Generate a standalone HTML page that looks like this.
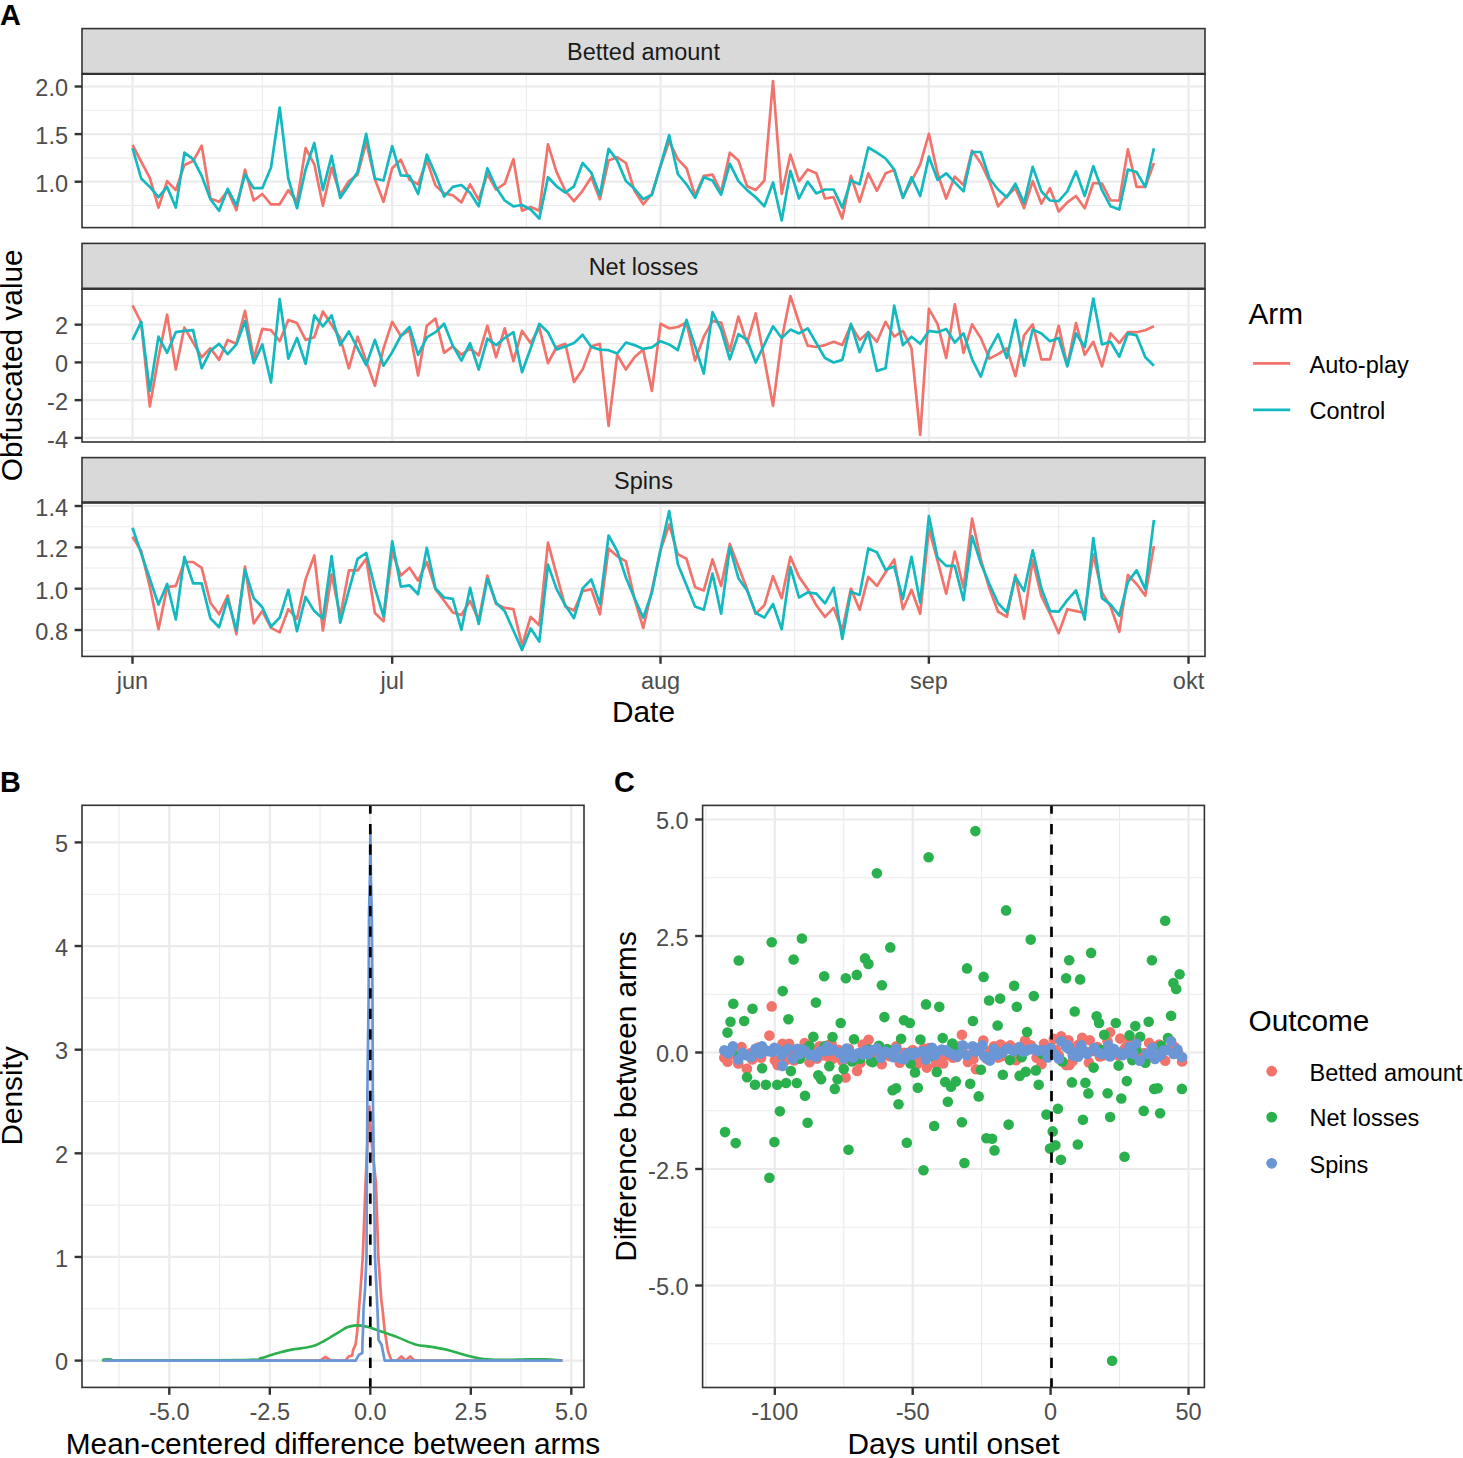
<!DOCTYPE html>
<html><head><meta charset="utf-8"><style>
html,body{margin:0;padding:0;background:#fff;}
svg{display:block;font-family:"Liberation Sans",sans-serif;}
</style></head><body>
<svg width="1463" height="1458" viewBox="0 0 1463 1458">
<rect x="0" y="0" width="1463" height="1458" fill="#fff"/>
<rect x="82.0" y="74.1" width="1123.0" height="153.5" fill="#FFFFFF"/>
<line x1="82.0" y1="205.50" x2="1205.0" y2="205.50" stroke="#EBEBED" stroke-width="1.1"/>
<line x1="82.0" y1="157.90" x2="1205.0" y2="157.90" stroke="#EBEBED" stroke-width="1.1"/>
<line x1="82.0" y1="110.30" x2="1205.0" y2="110.30" stroke="#EBEBED" stroke-width="1.1"/>
<line x1="262.34" y1="74.1" x2="262.34" y2="227.6" stroke="#EBEBED" stroke-width="1.1"/>
<line x1="526.35" y1="74.1" x2="526.35" y2="227.6" stroke="#EBEBED" stroke-width="1.1"/>
<line x1="794.68" y1="74.1" x2="794.68" y2="227.6" stroke="#EBEBED" stroke-width="1.1"/>
<line x1="1058.69" y1="74.1" x2="1058.69" y2="227.6" stroke="#EBEBED" stroke-width="1.1"/>
<line x1="82.0" y1="181.70" x2="1205.0" y2="181.70" stroke="#EBEBED" stroke-width="2.2"/>
<line x1="82.0" y1="134.10" x2="1205.0" y2="134.10" stroke="#EBEBED" stroke-width="2.2"/>
<line x1="82.0" y1="86.50" x2="1205.0" y2="86.50" stroke="#EBEBED" stroke-width="2.2"/>
<line x1="132.50" y1="74.1" x2="132.50" y2="227.6" stroke="#EBEBED" stroke-width="2.2"/>
<line x1="392.18" y1="74.1" x2="392.18" y2="227.6" stroke="#EBEBED" stroke-width="2.2"/>
<line x1="660.52" y1="74.1" x2="660.52" y2="227.6" stroke="#EBEBED" stroke-width="2.2"/>
<line x1="928.85" y1="74.1" x2="928.85" y2="227.6" stroke="#EBEBED" stroke-width="2.2"/>
<line x1="1188.53" y1="74.1" x2="1188.53" y2="227.6" stroke="#EBEBED" stroke-width="2.2"/>
<polyline points="132.5,144.9 141.2,161.7 149.8,177.9 158.5,207.6 167.1,181.1 175.8,190.1 184.4,164.9 193.1,161.1 201.7,145.6 210.4,198.5 219.1,201.8 227.7,190.8 236.4,210.2 245.0,169.5 253.7,200.5 262.3,194.0 271.0,204.3 279.7,204.3 288.3,190.1 297.0,201.8 305.6,148.2 314.3,164.3 322.9,205.6 331.6,167.5 340.2,194.7 348.9,181.1 357.6,174.6 366.2,142.3 374.9,179.2 383.5,201.8 392.2,168.2 400.8,159.8 409.5,179.8 418.1,184.3 426.8,160.4 435.5,185.6 444.1,193.4 452.8,195.3 461.4,202.4 470.1,184.3 478.7,199.8 487.4,174.0 496.1,189.5 504.7,183.7 513.4,159.1 522.0,210.8 530.7,206.9 539.3,210.8 548.0,144.3 556.6,172.1 565.3,190.8 574.0,201.1 582.6,190.8 591.3,177.2 599.9,199.2 608.6,160.4 617.2,157.2 625.9,163.0 634.5,190.8 643.2,204.3 651.9,194.0 660.5,166.2 669.2,141.1 677.8,159.1 686.5,168.2 695.1,196.0 703.8,175.9 712.5,174.6 721.1,192.1 729.8,152.7 738.4,160.4 747.1,186.3 755.7,190.1 764.4,180.5 773.0,81.0 781.7,194.0 790.4,154.6 799.0,181.1 807.7,169.5 816.3,173.3 825.0,198.5 833.6,197.2 842.3,218.6 850.9,175.9 859.6,201.8 868.3,173.3 876.9,190.8 885.6,173.3 894.2,170.1 902.9,197.2 911.5,181.1 920.2,164.3 928.9,133.9 937.5,173.3 946.2,198.5 954.8,176.6 963.5,185.0 972.1,150.7 980.8,163.0 989.4,181.1 998.1,206.3 1006.8,196.0 1015.4,188.2 1024.1,208.2 1032.7,181.1 1041.4,203.7 1050.0,188.2 1058.7,211.5 1067.3,202.4 1076.0,196.0 1084.7,208.2 1093.3,183.0 1102.0,183.7 1110.6,200.5 1119.3,200.5 1127.9,149.4 1136.6,186.9 1145.3,186.9 1153.9,163.0" fill="none" stroke="#F2736B" stroke-width="2.7" stroke-linejoin="round"/>
<polyline points="132.5,148.2 141.2,178.5 149.8,186.9 158.5,197.2 167.1,186.9 175.8,207.6 184.4,152.7 193.1,159.1 201.7,175.9 210.4,199.2 219.1,210.8 227.7,188.8 236.4,205.6 245.0,174.6 253.7,188.2 262.3,188.2 271.0,167.5 279.7,107.5 288.3,178.5 297.0,208.2 305.6,169.5 314.3,143.0 322.9,190.1 331.6,155.9 340.2,197.9 348.9,185.0 357.6,172.1 366.2,133.9 374.9,178.5 383.5,180.5 392.2,146.2 400.8,175.3 409.5,175.9 418.1,194.0 426.8,154.6 435.5,174.6 444.1,196.6 452.8,186.9 461.4,185.0 470.1,192.7 478.7,206.3 487.4,168.2 496.1,187.6 504.7,200.5 513.4,206.3 522.0,205.0 530.7,209.5 539.3,218.6 548.0,177.2 556.6,186.3 565.3,192.7 574.0,186.3 582.6,163.0 591.3,172.7 599.9,195.3 608.6,148.8 617.2,160.4 625.9,181.1 634.5,188.8 643.2,199.2 651.9,194.7 660.5,165.6 669.2,135.2 677.8,174.0 686.5,184.3 695.1,197.9 703.8,177.2 712.5,180.5 721.1,194.7 729.8,163.7 738.4,181.1 747.1,190.1 755.7,197.2 764.4,206.3 773.0,182.4 781.7,220.5 790.4,170.8 799.0,198.5 807.7,181.7 816.3,193.4 825.0,189.5 833.6,189.5 842.3,207.6 850.9,180.5 859.6,184.3 868.3,147.5 876.9,152.7 885.6,158.5 894.2,169.5 902.9,197.9 911.5,177.2 920.2,196.0 928.9,156.6 937.5,179.8 946.2,173.3 954.8,182.4 963.5,191.4 972.1,152.0 980.8,152.0 989.4,178.5 998.1,189.5 1006.8,197.2 1015.4,183.7 1024.1,203.1 1032.7,166.9 1041.4,191.4 1050.0,200.5 1058.7,201.1 1067.3,191.4 1076.0,171.4 1084.7,196.0 1093.3,166.2 1102.0,190.1 1110.6,206.3 1119.3,209.5 1127.9,169.5 1136.6,172.1 1145.3,186.9 1153.9,148.2" fill="none" stroke="#14B9C0" stroke-width="2.7" stroke-linejoin="round"/>
<rect x="82.0" y="74.1" width="1123.0" height="153.5" fill="none" stroke="#333333" stroke-width="1.6"/>
<rect x="82.0" y="28.6" width="1123.0" height="45.49999999999999" fill="#D9D9D9" stroke="#333333" stroke-width="1.6"/>
<line x1="82.0" y1="73.90" x2="1205.0" y2="73.90" stroke="#333333" stroke-width="2.3"/>
<text x="643.50" y="60.40" font-size="23.5" fill="#1A1A1A" text-anchor="middle" font-weight="normal" >Betted amount</text>
<line x1="74.6" y1="181.70" x2="82.0" y2="181.70" stroke="#333333" stroke-width="2.4"/>
<text x="68.00" y="191.50" font-size="23.5" fill="#4D4D4D" text-anchor="end" font-weight="normal" >1.0</text>
<line x1="74.6" y1="134.10" x2="82.0" y2="134.10" stroke="#333333" stroke-width="2.4"/>
<text x="68.00" y="143.90" font-size="23.5" fill="#4D4D4D" text-anchor="end" font-weight="normal" >1.5</text>
<line x1="74.6" y1="86.50" x2="82.0" y2="86.50" stroke="#333333" stroke-width="2.4"/>
<text x="68.00" y="96.30" font-size="23.5" fill="#4D4D4D" text-anchor="end" font-weight="normal" >2.0</text>
<rect x="82.0" y="288.8" width="1123.0" height="153.2" fill="#FFFFFF"/>
<line x1="82.0" y1="419.01" x2="1205.0" y2="419.01" stroke="#EBEBED" stroke-width="1.1"/>
<line x1="82.0" y1="381.27" x2="1205.0" y2="381.27" stroke="#EBEBED" stroke-width="1.1"/>
<line x1="82.0" y1="343.53" x2="1205.0" y2="343.53" stroke="#EBEBED" stroke-width="1.1"/>
<line x1="82.0" y1="305.79" x2="1205.0" y2="305.79" stroke="#EBEBED" stroke-width="1.1"/>
<line x1="262.34" y1="288.8" x2="262.34" y2="442.0" stroke="#EBEBED" stroke-width="1.1"/>
<line x1="526.35" y1="288.8" x2="526.35" y2="442.0" stroke="#EBEBED" stroke-width="1.1"/>
<line x1="794.68" y1="288.8" x2="794.68" y2="442.0" stroke="#EBEBED" stroke-width="1.1"/>
<line x1="1058.69" y1="288.8" x2="1058.69" y2="442.0" stroke="#EBEBED" stroke-width="1.1"/>
<line x1="82.0" y1="437.88" x2="1205.0" y2="437.88" stroke="#EBEBED" stroke-width="2.2"/>
<line x1="82.0" y1="400.14" x2="1205.0" y2="400.14" stroke="#EBEBED" stroke-width="2.2"/>
<line x1="82.0" y1="362.40" x2="1205.0" y2="362.40" stroke="#EBEBED" stroke-width="2.2"/>
<line x1="82.0" y1="324.66" x2="1205.0" y2="324.66" stroke="#EBEBED" stroke-width="2.2"/>
<line x1="132.50" y1="288.8" x2="132.50" y2="442.0" stroke="#EBEBED" stroke-width="2.2"/>
<line x1="392.18" y1="288.8" x2="392.18" y2="442.0" stroke="#EBEBED" stroke-width="2.2"/>
<line x1="660.52" y1="288.8" x2="660.52" y2="442.0" stroke="#EBEBED" stroke-width="2.2"/>
<line x1="928.85" y1="288.8" x2="928.85" y2="442.0" stroke="#EBEBED" stroke-width="2.2"/>
<line x1="1188.53" y1="288.8" x2="1188.53" y2="442.0" stroke="#EBEBED" stroke-width="2.2"/>
<polyline points="132.5,305.4 141.2,322.5 149.8,406.4 158.5,357.3 167.1,314.7 175.8,369.6 184.4,327.6 193.1,342.5 201.7,357.3 210.4,348.3 219.1,359.9 227.7,339.9 236.4,343.8 245.0,310.8 253.7,358.6 262.3,328.9 271.0,330.2 279.7,341.2 288.3,319.9 297.0,323.1 305.6,339.9 314.3,337.3 322.9,311.5 331.6,325.0 340.2,338.0 348.9,368.3 357.6,336.7 366.2,361.2 374.9,385.8 383.5,348.3 392.2,321.8 400.8,336.0 409.5,330.2 418.1,375.4 426.8,325.7 435.5,318.6 444.1,352.8 452.8,346.4 461.4,354.8 470.1,348.3 478.7,355.4 487.4,325.7 496.1,357.3 504.7,328.3 513.4,361.2 522.0,330.9 530.7,343.1 539.3,327.6 548.0,363.2 556.6,347.0 565.3,343.8 574.0,381.9 582.6,369.6 591.3,346.4 599.9,343.8 608.6,425.8 617.2,354.8 625.9,369.6 634.5,357.3 643.2,349.6 651.9,390.9 660.5,323.8 669.2,328.3 677.8,327.0 686.5,322.5 695.1,360.6 703.8,336.7 712.5,321.2 721.1,322.5 729.8,350.9 738.4,316.6 747.1,343.1 755.7,313.4 764.4,359.5 773.0,405.8 781.7,339.3 790.4,296.0 799.0,322.5 807.7,345.7 816.3,347.0 825.0,345.1 833.6,341.8 842.3,345.1 850.9,325.0 859.6,339.9 868.3,332.2 876.9,341.8 885.6,321.8 894.2,336.7 902.9,330.9 911.5,348.3 920.2,434.9 928.9,308.9 937.5,323.8 946.2,358.0 954.8,304.4 963.5,352.8 972.1,324.4 980.8,338.0 989.4,358.6 998.1,354.1 1006.8,348.3 1015.4,376.1 1024.1,335.4 1032.7,324.4 1041.4,359.3 1050.0,359.3 1058.7,325.7 1067.3,365.7 1076.0,323.1 1084.7,354.8 1093.3,341.8 1102.0,366.4 1110.6,333.4 1119.3,343.1 1127.9,332.2 1136.6,332.2 1145.3,330.2 1153.9,326.3" fill="none" stroke="#F2736B" stroke-width="2.7" stroke-linejoin="round"/>
<polyline points="132.5,339.9 141.2,321.8 149.8,390.9 158.5,336.7 167.1,352.8 175.8,332.2 184.4,330.9 193.1,330.2 201.7,368.3 210.4,350.9 219.1,343.8 227.7,354.1 236.4,344.4 245.0,321.2 253.7,363.2 262.3,344.4 271.0,382.5 279.7,299.2 288.3,358.6 297.0,338.0 305.6,363.8 314.3,315.4 322.9,326.3 331.6,315.4 340.2,345.1 348.9,331.5 357.6,348.3 366.2,365.1 374.9,339.9 383.5,365.7 392.2,352.2 400.8,336.0 409.5,327.0 418.1,354.8 426.8,337.3 435.5,332.2 444.1,323.8 452.8,345.7 461.4,360.6 470.1,343.1 478.7,369.6 487.4,338.6 496.1,345.1 504.7,338.0 513.4,332.2 522.0,372.2 530.7,348.3 539.3,323.8 548.0,332.2 556.6,349.6 565.3,346.4 574.0,343.1 582.6,334.7 591.3,347.0 599.9,349.6 608.6,350.2 617.2,353.5 625.9,342.5 634.5,345.1 643.2,348.9 651.9,347.3 660.5,341.2 669.2,344.4 677.8,350.2 686.5,319.9 695.1,346.4 703.8,373.5 712.5,312.1 721.1,329.6 729.8,359.3 738.4,334.1 747.1,339.9 755.7,362.5 764.4,344.4 773.0,326.3 781.7,338.0 790.4,329.6 799.0,333.4 807.7,328.3 816.3,343.1 825.0,358.0 833.6,362.5 842.3,359.9 850.9,323.8 859.6,352.2 868.3,332.2 876.9,370.9 885.6,368.3 894.2,305.7 902.9,345.1 911.5,336.7 920.2,343.8 928.9,330.9 937.5,332.2 946.2,328.9 954.8,342.5 963.5,333.4 972.1,359.3 980.8,376.7 989.4,350.2 998.1,334.1 1006.8,358.0 1015.4,319.9 1024.1,365.7 1032.7,329.6 1041.4,333.4 1050.0,341.2 1058.7,338.0 1067.3,366.4 1076.0,333.4 1084.7,347.0 1093.3,298.6 1102.0,344.4 1110.6,341.8 1119.3,356.7 1127.9,333.4 1136.6,335.4 1145.3,357.3 1153.9,365.7" fill="none" stroke="#14B9C0" stroke-width="2.7" stroke-linejoin="round"/>
<rect x="82.0" y="288.8" width="1123.0" height="153.2" fill="none" stroke="#333333" stroke-width="1.6"/>
<rect x="82.0" y="243.4" width="1123.0" height="45.400000000000006" fill="#D9D9D9" stroke="#333333" stroke-width="1.6"/>
<line x1="82.0" y1="288.60" x2="1205.0" y2="288.60" stroke="#333333" stroke-width="2.3"/>
<text x="643.50" y="275.20" font-size="23.5" fill="#1A1A1A" text-anchor="middle" font-weight="normal" >Net losses</text>
<line x1="74.6" y1="437.88" x2="82.0" y2="437.88" stroke="#333333" stroke-width="2.4"/>
<text x="68.00" y="447.68" font-size="23.5" fill="#4D4D4D" text-anchor="end" font-weight="normal" >-4</text>
<line x1="74.6" y1="400.14" x2="82.0" y2="400.14" stroke="#333333" stroke-width="2.4"/>
<text x="68.00" y="409.94" font-size="23.5" fill="#4D4D4D" text-anchor="end" font-weight="normal" >-2</text>
<line x1="74.6" y1="362.40" x2="82.0" y2="362.40" stroke="#333333" stroke-width="2.4"/>
<text x="68.00" y="372.20" font-size="23.5" fill="#4D4D4D" text-anchor="end" font-weight="normal" >0</text>
<line x1="74.6" y1="324.66" x2="82.0" y2="324.66" stroke="#333333" stroke-width="2.4"/>
<text x="68.00" y="334.46" font-size="23.5" fill="#4D4D4D" text-anchor="end" font-weight="normal" >2</text>
<rect x="82.0" y="502.6" width="1123.0" height="153.79999999999995" fill="#FFFFFF"/>
<line x1="82.0" y1="650.71" x2="1205.0" y2="650.71" stroke="#EBEBED" stroke-width="1.1"/>
<line x1="82.0" y1="609.37" x2="1205.0" y2="609.37" stroke="#EBEBED" stroke-width="1.1"/>
<line x1="82.0" y1="568.03" x2="1205.0" y2="568.03" stroke="#EBEBED" stroke-width="1.1"/>
<line x1="82.0" y1="526.69" x2="1205.0" y2="526.69" stroke="#EBEBED" stroke-width="1.1"/>
<line x1="262.34" y1="502.6" x2="262.34" y2="656.4" stroke="#EBEBED" stroke-width="1.1"/>
<line x1="526.35" y1="502.6" x2="526.35" y2="656.4" stroke="#EBEBED" stroke-width="1.1"/>
<line x1="794.68" y1="502.6" x2="794.68" y2="656.4" stroke="#EBEBED" stroke-width="1.1"/>
<line x1="1058.69" y1="502.6" x2="1058.69" y2="656.4" stroke="#EBEBED" stroke-width="1.1"/>
<line x1="82.0" y1="630.04" x2="1205.0" y2="630.04" stroke="#EBEBED" stroke-width="2.2"/>
<line x1="82.0" y1="588.70" x2="1205.0" y2="588.70" stroke="#EBEBED" stroke-width="2.2"/>
<line x1="82.0" y1="547.36" x2="1205.0" y2="547.36" stroke="#EBEBED" stroke-width="2.2"/>
<line x1="82.0" y1="506.02" x2="1205.0" y2="506.02" stroke="#EBEBED" stroke-width="2.2"/>
<line x1="132.50" y1="502.6" x2="132.50" y2="656.4" stroke="#EBEBED" stroke-width="2.2"/>
<line x1="392.18" y1="502.6" x2="392.18" y2="656.4" stroke="#EBEBED" stroke-width="2.2"/>
<line x1="660.52" y1="502.6" x2="660.52" y2="656.4" stroke="#EBEBED" stroke-width="2.2"/>
<line x1="928.85" y1="502.6" x2="928.85" y2="656.4" stroke="#EBEBED" stroke-width="2.2"/>
<line x1="1188.53" y1="502.6" x2="1188.53" y2="656.4" stroke="#EBEBED" stroke-width="2.2"/>
<polyline points="132.5,536.8 141.2,551.0 149.8,586.6 158.5,629.2 167.1,587.2 175.8,585.9 184.4,562.0 193.1,562.0 201.7,567.8 210.4,602.7 219.1,614.3 227.7,595.6 236.4,634.3 245.0,566.5 253.7,623.4 262.3,611.1 271.0,627.9 279.7,632.4 288.3,609.2 297.0,618.8 305.6,579.4 314.3,555.5 322.9,630.5 331.6,574.3 340.2,616.3 348.9,570.4 357.6,570.4 366.2,558.8 374.9,613.0 383.5,621.4 392.2,551.7 400.8,575.6 409.5,567.8 418.1,580.7 426.8,562.0 435.5,589.1 444.1,600.8 452.8,612.4 461.4,615.0 470.1,600.8 478.7,620.1 487.4,575.6 496.1,604.0 504.7,607.9 513.4,609.2 522.0,645.3 530.7,616.9 539.3,625.3 548.0,542.6 556.6,574.9 565.3,606.6 574.0,610.5 582.6,591.1 591.3,589.1 599.9,614.3 608.6,548.4 617.2,556.2 625.9,561.4 634.5,598.8 643.2,627.9 651.9,590.4 660.5,550.4 669.2,524.5 677.8,554.3 686.5,558.8 695.1,587.2 703.8,590.4 712.5,559.4 721.1,585.9 729.8,543.9 738.4,566.5 747.1,589.1 755.7,613.7 764.4,605.3 773.0,576.2 781.7,598.2 790.4,556.8 799.0,576.9 807.7,589.1 816.3,605.3 825.0,616.9 833.6,607.9 842.3,630.5 850.9,588.5 859.6,609.8 868.3,576.9 876.9,585.9 885.6,572.3 894.2,559.4 902.9,609.2 911.5,589.8 920.2,613.7 928.9,528.4 937.5,560.7 946.2,593.7 954.8,551.7 963.5,587.8 972.1,518.7 980.8,559.4 989.4,588.5 998.1,611.7 1006.8,616.9 1015.4,574.9 1024.1,618.8 1032.7,560.1 1041.4,596.2 1050.0,613.7 1058.7,633.1 1067.3,609.2 1076.0,611.1 1084.7,613.0 1093.3,554.3 1102.0,592.4 1110.6,606.6 1119.3,631.8 1127.9,574.9 1136.6,584.0 1145.3,595.6 1153.9,545.9" fill="none" stroke="#F2736B" stroke-width="2.7" stroke-linejoin="round"/>
<polyline points="132.5,527.8 141.2,553.4 149.8,578.8 158.5,604.6 167.1,584.0 175.8,619.5 184.4,556.8 193.1,583.3 201.7,583.3 210.4,618.2 219.1,627.2 227.7,598.8 236.4,630.5 245.0,569.8 253.7,598.2 262.3,607.2 271.0,626.6 279.7,617.6 288.3,589.8 297.0,631.1 305.6,596.9 314.3,611.1 322.9,618.8 331.6,556.2 340.2,622.7 348.9,590.4 357.6,558.8 366.2,553.0 374.9,587.8 383.5,616.3 392.2,541.3 400.8,586.6 409.5,585.3 418.1,594.3 426.8,547.8 435.5,588.5 444.1,597.5 452.8,598.8 461.4,629.8 470.1,587.8 478.7,624.0 487.4,578.8 496.1,602.7 504.7,611.1 513.4,630.5 522.0,649.9 530.7,628.5 539.3,641.5 548.0,564.6 556.6,589.1 565.3,605.3 574.0,618.2 582.6,588.5 591.3,579.4 599.9,604.0 608.6,535.5 617.2,551.0 625.9,577.5 634.5,598.2 643.2,617.6 651.9,592.8 660.5,549.7 669.2,511.0 677.8,563.9 686.5,585.3 695.1,606.6 703.8,609.8 712.5,573.6 721.1,613.7 729.8,547.2 738.4,578.2 747.1,590.4 755.7,613.0 764.4,617.6 773.0,604.0 781.7,629.2 790.4,567.2 799.0,597.5 807.7,592.4 816.3,593.7 825.0,603.3 833.6,587.8 842.3,638.9 850.9,591.7 859.6,594.9 868.3,548.4 876.9,552.3 885.6,569.8 894.2,566.5 902.9,598.8 911.5,556.8 920.2,602.7 928.9,516.1 937.5,557.5 946.2,565.9 954.8,565.9 963.5,600.1 972.1,536.2 980.8,563.3 989.4,584.0 998.1,603.3 1006.8,612.4 1015.4,576.9 1024.1,591.1 1032.7,550.4 1041.4,588.5 1050.0,611.1 1058.7,611.7 1067.3,600.1 1076.0,590.4 1084.7,619.5 1093.3,538.1 1102.0,598.2 1110.6,604.6 1119.3,615.6 1127.9,582.0 1136.6,570.4 1145.3,589.1 1153.9,520.0" fill="none" stroke="#14B9C0" stroke-width="2.7" stroke-linejoin="round"/>
<rect x="82.0" y="502.6" width="1123.0" height="153.79999999999995" fill="none" stroke="#333333" stroke-width="1.6"/>
<rect x="82.0" y="457.6" width="1123.0" height="45.0" fill="#D9D9D9" stroke="#333333" stroke-width="1.6"/>
<line x1="82.0" y1="502.40" x2="1205.0" y2="502.40" stroke="#333333" stroke-width="2.3"/>
<text x="643.50" y="489.40" font-size="23.5" fill="#1A1A1A" text-anchor="middle" font-weight="normal" >Spins</text>
<line x1="74.6" y1="630.04" x2="82.0" y2="630.04" stroke="#333333" stroke-width="2.4"/>
<text x="68.00" y="639.84" font-size="23.5" fill="#4D4D4D" text-anchor="end" font-weight="normal" >0.8</text>
<line x1="74.6" y1="588.70" x2="82.0" y2="588.70" stroke="#333333" stroke-width="2.4"/>
<text x="68.00" y="598.50" font-size="23.5" fill="#4D4D4D" text-anchor="end" font-weight="normal" >1.0</text>
<line x1="74.6" y1="547.36" x2="82.0" y2="547.36" stroke="#333333" stroke-width="2.4"/>
<text x="68.00" y="557.16" font-size="23.5" fill="#4D4D4D" text-anchor="end" font-weight="normal" >1.2</text>
<line x1="74.6" y1="506.02" x2="82.0" y2="506.02" stroke="#333333" stroke-width="2.4"/>
<text x="68.00" y="515.82" font-size="23.5" fill="#4D4D4D" text-anchor="end" font-weight="normal" >1.4</text>
<line x1="132.50" y1="656.4" x2="132.50" y2="663.8" stroke="#333333" stroke-width="2.4"/>
<text x="132.50" y="689.30" font-size="23.5" fill="#4D4D4D" text-anchor="middle" font-weight="normal" >jun</text>
<line x1="392.18" y1="656.4" x2="392.18" y2="663.8" stroke="#333333" stroke-width="2.4"/>
<text x="392.18" y="689.30" font-size="23.5" fill="#4D4D4D" text-anchor="middle" font-weight="normal" >jul</text>
<line x1="660.52" y1="656.4" x2="660.52" y2="663.8" stroke="#333333" stroke-width="2.4"/>
<text x="660.52" y="689.30" font-size="23.5" fill="#4D4D4D" text-anchor="middle" font-weight="normal" >aug</text>
<line x1="928.85" y1="656.4" x2="928.85" y2="663.8" stroke="#333333" stroke-width="2.4"/>
<text x="928.85" y="689.30" font-size="23.5" fill="#4D4D4D" text-anchor="middle" font-weight="normal" >sep</text>
<line x1="1188.53" y1="656.4" x2="1188.53" y2="663.8" stroke="#333333" stroke-width="2.4"/>
<text x="1188.53" y="689.30" font-size="23.5" fill="#4D4D4D" text-anchor="middle" font-weight="normal" >okt</text>
<text x="643.50" y="722.00" font-size="29.8" fill="#000000" text-anchor="middle" font-weight="normal" >Date</text>
<text x="22.2" y="365.3" font-size="29.8" fill="#000" text-anchor="middle" transform="rotate(-90 22.2 365.3)">Obfuscated value</text>
<text x="1248.50" y="323.80" font-size="29.8" fill="#000" text-anchor="start" font-weight="normal" >Arm</text>
<line x1="1253.1" y1="363.30" x2="1290.2" y2="363.30" stroke="#F2736B" stroke-width="2.8"/>
<line x1="1253.1" y1="409.80" x2="1290.2" y2="409.80" stroke="#14B9C0" stroke-width="2.8"/>
<text x="1309.50" y="372.80" font-size="23.5" fill="#000" text-anchor="start" font-weight="normal" >Auto-play</text>
<text x="1309.50" y="419.00" font-size="23.5" fill="#000" text-anchor="start" font-weight="normal" >Control</text>
<text x="0.00" y="24.60" font-size="28.8" fill="#000" text-anchor="start" font-weight="bold" >A</text>
<text x="0.00" y="791.70" font-size="28.8" fill="#000" text-anchor="start" font-weight="bold" >B</text>
<text x="614.00" y="791.90" font-size="28.8" fill="#000" text-anchor="start" font-weight="bold" >C</text>
<rect x="82.0" y="805.3" width="502.0" height="582.1000000000001" fill="#fff"/>
<line x1="82.0" y1="1308.78" x2="584.0" y2="1308.78" stroke="#EBEBED" stroke-width="1.1"/>
<line x1="82.0" y1="1205.14" x2="584.0" y2="1205.14" stroke="#EBEBED" stroke-width="1.1"/>
<line x1="82.0" y1="1101.50" x2="584.0" y2="1101.50" stroke="#EBEBED" stroke-width="1.1"/>
<line x1="82.0" y1="997.86" x2="584.0" y2="997.86" stroke="#EBEBED" stroke-width="1.1"/>
<line x1="82.0" y1="894.22" x2="584.0" y2="894.22" stroke="#EBEBED" stroke-width="1.1"/>
<line x1="119.05" y1="805.3" x2="119.05" y2="1387.4" stroke="#EBEBED" stroke-width="1.1"/>
<line x1="219.55" y1="805.3" x2="219.55" y2="1387.4" stroke="#EBEBED" stroke-width="1.1"/>
<line x1="320.05" y1="805.3" x2="320.05" y2="1387.4" stroke="#EBEBED" stroke-width="1.1"/>
<line x1="420.55" y1="805.3" x2="420.55" y2="1387.4" stroke="#EBEBED" stroke-width="1.1"/>
<line x1="521.05" y1="805.3" x2="521.05" y2="1387.4" stroke="#EBEBED" stroke-width="1.1"/>
<line x1="82.0" y1="1360.60" x2="584.0" y2="1360.60" stroke="#EBEBED" stroke-width="2.2"/>
<line x1="82.0" y1="1256.96" x2="584.0" y2="1256.96" stroke="#EBEBED" stroke-width="2.2"/>
<line x1="82.0" y1="1153.32" x2="584.0" y2="1153.32" stroke="#EBEBED" stroke-width="2.2"/>
<line x1="82.0" y1="1049.68" x2="584.0" y2="1049.68" stroke="#EBEBED" stroke-width="2.2"/>
<line x1="82.0" y1="946.04" x2="584.0" y2="946.04" stroke="#EBEBED" stroke-width="2.2"/>
<line x1="82.0" y1="842.40" x2="584.0" y2="842.40" stroke="#EBEBED" stroke-width="2.2"/>
<line x1="169.30" y1="805.3" x2="169.30" y2="1387.4" stroke="#EBEBED" stroke-width="2.2"/>
<line x1="269.80" y1="805.3" x2="269.80" y2="1387.4" stroke="#EBEBED" stroke-width="2.2"/>
<line x1="370.30" y1="805.3" x2="370.30" y2="1387.4" stroke="#EBEBED" stroke-width="2.2"/>
<line x1="470.80" y1="805.3" x2="470.80" y2="1387.4" stroke="#EBEBED" stroke-width="2.2"/>
<line x1="571.30" y1="805.3" x2="571.30" y2="1387.4" stroke="#EBEBED" stroke-width="2.2"/>
<polyline points="103.0,1360.6 320.0,1360.6 325.5,1357.0 331.0,1360.6 345.4,1360.6 348.8,1356.4 352.2,1355.5 353.1,1350.0 355.6,1344.4 357.3,1330.8 358.9,1310.0 360.5,1290.0 362.8,1256.7 365.5,1184.0 367.5,1140.0 369.3,1106.7 371.5,1140.0 376.0,1184.0 378.3,1256.7 381.3,1300.0 382.6,1310.0 384.7,1330.8 387.8,1350.0 388.6,1353.0 391.5,1360.6 397.0,1360.6 401.4,1356.4 405.8,1360.6 410.3,1356.4 414.5,1360.6 562.4,1360.6" fill="none" stroke="#F2736B" stroke-width="2.7" stroke-linejoin="round"/>
<path d="M103.00,1360.60 C103.17,1360.43 102.60,1359.77 104.00,1359.60 C105.40,1359.43 109.90,1359.43 111.40,1359.60 C112.90,1359.77 90.93,1360.53 113.00,1360.60 C135.07,1360.67 219.15,1360.42 243.80,1360.00 C268.45,1359.58 256.63,1358.85 260.90,1358.10 C265.17,1357.35 266.55,1356.35 269.40,1355.50 C272.25,1354.65 274.30,1353.98 278.00,1353.00 C281.70,1352.02 287.05,1350.47 291.60,1349.60 C296.15,1348.73 301.30,1348.52 305.30,1347.80 C309.30,1347.08 312.47,1346.43 315.60,1345.30 C318.73,1344.17 321.70,1342.30 324.10,1341.00 C326.50,1339.70 327.60,1338.95 330.00,1337.50 C332.40,1336.05 335.65,1334.00 338.50,1332.30 C341.35,1330.60 344.53,1328.42 347.10,1327.30 C349.67,1326.18 351.62,1325.88 353.90,1325.60 C356.18,1325.32 358.23,1325.32 360.80,1325.60 C363.37,1325.88 365.88,1326.30 369.30,1327.30 C372.72,1328.30 376.45,1329.88 381.30,1331.60 C386.15,1333.32 392.72,1335.47 398.40,1337.60 C404.08,1339.73 409.72,1342.83 415.40,1344.40 C421.08,1345.97 426.80,1346.00 432.50,1347.00 C438.20,1348.00 443.90,1348.98 449.60,1350.40 C455.30,1351.82 461.00,1354.07 466.70,1355.50 C472.40,1356.93 478.10,1358.27 483.80,1359.00 C489.50,1359.73 493.50,1359.83 500.90,1359.90 C508.30,1359.97 520.80,1359.48 528.20,1359.40 C535.60,1359.32 539.75,1359.20 545.30,1359.40 C550.85,1359.60 558.80,1360.40 561.50,1360.60" fill="none" stroke="#2AB04C" stroke-width="2.6" stroke-linejoin="round"/>
<polyline points="103.0,1360.6 355.6,1360.6 359.0,1354.7 362.3,1353.0 362.4,1345.0 363.0,1330.0 363.5,1310.0 365.0,1290.0 366.5,1256.7 367.4,1090.0 368.6,997.7 369.0,914.0 369.9,878.5 370.4,831.0 370.9,878.5 371.8,914.0 372.5,997.7 372.8,1090.0 375.0,1256.7 377.0,1300.0 377.5,1310.0 378.5,1340.0 381.5,1344.5 384.7,1360.6 562.4,1360.6" fill="none" stroke="#6A96D6" stroke-width="2.7" stroke-linejoin="round"/>
<line x1="370.30" y1="1387.4" x2="370.30" y2="805.3" stroke="#000" stroke-width="2.7" stroke-dasharray="10.25 10.28" stroke-dashoffset="1.1"/>
<rect x="82.0" y="805.3" width="502.0" height="582.1000000000001" fill="none" stroke="#333333" stroke-width="1.6"/>
<line x1="74.6" y1="1360.60" x2="82.0" y2="1360.60" stroke="#333333" stroke-width="2.4"/>
<text x="68.00" y="1370.40" font-size="23.5" fill="#4D4D4D" text-anchor="end" font-weight="normal" >0</text>
<line x1="74.6" y1="1256.96" x2="82.0" y2="1256.96" stroke="#333333" stroke-width="2.4"/>
<text x="68.00" y="1266.76" font-size="23.5" fill="#4D4D4D" text-anchor="end" font-weight="normal" >1</text>
<line x1="74.6" y1="1153.32" x2="82.0" y2="1153.32" stroke="#333333" stroke-width="2.4"/>
<text x="68.00" y="1163.12" font-size="23.5" fill="#4D4D4D" text-anchor="end" font-weight="normal" >2</text>
<line x1="74.6" y1="1049.68" x2="82.0" y2="1049.68" stroke="#333333" stroke-width="2.4"/>
<text x="68.00" y="1059.48" font-size="23.5" fill="#4D4D4D" text-anchor="end" font-weight="normal" >3</text>
<line x1="74.6" y1="946.04" x2="82.0" y2="946.04" stroke="#333333" stroke-width="2.4"/>
<text x="68.00" y="955.84" font-size="23.5" fill="#4D4D4D" text-anchor="end" font-weight="normal" >4</text>
<line x1="74.6" y1="842.40" x2="82.0" y2="842.40" stroke="#333333" stroke-width="2.4"/>
<text x="68.00" y="852.20" font-size="23.5" fill="#4D4D4D" text-anchor="end" font-weight="normal" >5</text>
<line x1="169.30" y1="1387.4" x2="169.30" y2="1394.8000000000002" stroke="#333333" stroke-width="2.4"/>
<text x="169.30" y="1420.30" font-size="23.5" fill="#4D4D4D" text-anchor="middle" font-weight="normal" >-5.0</text>
<line x1="269.80" y1="1387.4" x2="269.80" y2="1394.8000000000002" stroke="#333333" stroke-width="2.4"/>
<text x="269.80" y="1420.30" font-size="23.5" fill="#4D4D4D" text-anchor="middle" font-weight="normal" >-2.5</text>
<line x1="370.30" y1="1387.4" x2="370.30" y2="1394.8000000000002" stroke="#333333" stroke-width="2.4"/>
<text x="370.30" y="1420.30" font-size="23.5" fill="#4D4D4D" text-anchor="middle" font-weight="normal" >0.0</text>
<line x1="470.80" y1="1387.4" x2="470.80" y2="1394.8000000000002" stroke="#333333" stroke-width="2.4"/>
<text x="470.80" y="1420.30" font-size="23.5" fill="#4D4D4D" text-anchor="middle" font-weight="normal" >2.5</text>
<line x1="571.30" y1="1387.4" x2="571.30" y2="1394.8000000000002" stroke="#333333" stroke-width="2.4"/>
<text x="571.30" y="1420.30" font-size="23.5" fill="#4D4D4D" text-anchor="middle" font-weight="normal" >5.0</text>
<text x="333.00" y="1453.60" font-size="29.8" fill="#000" text-anchor="middle" font-weight="normal" >Mean-centered difference between arms</text>
<text x="22.3" y="1095.9" font-size="29.8" fill="#000" text-anchor="middle" transform="rotate(-90 22.3 1095.9)">Density</text>
<rect x="702.6" y="805.4" width="501.80000000000007" height="582.1" fill="#fff"/>
<line x1="702.6" y1="1343.75" x2="1204.4" y2="1343.75" stroke="#EBEBED" stroke-width="1.1"/>
<line x1="702.6" y1="1227.25" x2="1204.4" y2="1227.25" stroke="#EBEBED" stroke-width="1.1"/>
<line x1="702.6" y1="1110.75" x2="1204.4" y2="1110.75" stroke="#EBEBED" stroke-width="1.1"/>
<line x1="702.6" y1="994.25" x2="1204.4" y2="994.25" stroke="#EBEBED" stroke-width="1.1"/>
<line x1="702.6" y1="877.75" x2="1204.4" y2="877.75" stroke="#EBEBED" stroke-width="1.1"/>
<line x1="705.85" y1="805.4" x2="705.85" y2="1387.5" stroke="#EBEBED" stroke-width="1.1"/>
<line x1="843.75" y1="805.4" x2="843.75" y2="1387.5" stroke="#EBEBED" stroke-width="1.1"/>
<line x1="981.65" y1="805.4" x2="981.65" y2="1387.5" stroke="#EBEBED" stroke-width="1.1"/>
<line x1="1119.55" y1="805.4" x2="1119.55" y2="1387.5" stroke="#EBEBED" stroke-width="1.1"/>
<line x1="702.6" y1="1285.50" x2="1204.4" y2="1285.50" stroke="#EBEBED" stroke-width="2.2"/>
<line x1="702.6" y1="1169.00" x2="1204.4" y2="1169.00" stroke="#EBEBED" stroke-width="2.2"/>
<line x1="702.6" y1="1052.50" x2="1204.4" y2="1052.50" stroke="#EBEBED" stroke-width="2.2"/>
<line x1="702.6" y1="936.00" x2="1204.4" y2="936.00" stroke="#EBEBED" stroke-width="2.2"/>
<line x1="702.6" y1="819.50" x2="1204.4" y2="819.50" stroke="#EBEBED" stroke-width="2.2"/>
<line x1="774.80" y1="805.4" x2="774.80" y2="1387.5" stroke="#EBEBED" stroke-width="2.2"/>
<line x1="912.70" y1="805.4" x2="912.70" y2="1387.5" stroke="#EBEBED" stroke-width="2.2"/>
<line x1="1050.60" y1="805.4" x2="1050.60" y2="1387.5" stroke="#EBEBED" stroke-width="2.2"/>
<line x1="1188.50" y1="805.4" x2="1188.50" y2="1387.5" stroke="#EBEBED" stroke-width="2.2"/>
<g fill="#F2736B"><circle cx="730.7" cy="1053.5" r="5.3"/><circle cx="733.4" cy="1053.9" r="5.3"/><circle cx="750.0" cy="1053.4" r="5.3"/><circle cx="755.5" cy="1050.4" r="5.3"/><circle cx="758.3" cy="1047.6" r="5.3"/><circle cx="763.8" cy="1051.2" r="5.3"/><circle cx="766.5" cy="1050.6" r="5.3"/><circle cx="774.8" cy="1060.2" r="5.3"/><circle cx="780.3" cy="1050.0" r="5.3"/><circle cx="785.8" cy="1060.3" r="5.3"/><circle cx="794.1" cy="1060.5" r="5.3"/><circle cx="796.9" cy="1056.6" r="5.3"/><circle cx="799.6" cy="1051.0" r="5.3"/><circle cx="802.4" cy="1052.6" r="5.3"/><circle cx="821.7" cy="1051.0" r="5.3"/><circle cx="824.4" cy="1055.5" r="5.3"/><circle cx="838.2" cy="1049.8" r="5.3"/><circle cx="852.0" cy="1055.3" r="5.3"/><circle cx="854.8" cy="1055.9" r="5.3"/><circle cx="865.8" cy="1051.2" r="5.3"/><circle cx="871.3" cy="1056.9" r="5.3"/><circle cx="874.1" cy="1054.8" r="5.3"/><circle cx="876.8" cy="1056.2" r="5.3"/><circle cx="885.1" cy="1050.4" r="5.3"/><circle cx="893.4" cy="1052.2" r="5.3"/><circle cx="896.2" cy="1046.3" r="5.3"/><circle cx="912.7" cy="1050.1" r="5.3"/><circle cx="921.0" cy="1059.2" r="5.3"/><circle cx="923.7" cy="1048.5" r="5.3"/><circle cx="929.2" cy="1048.0" r="5.3"/><circle cx="932.0" cy="1050.7" r="5.3"/><circle cx="940.3" cy="1058.5" r="5.3"/><circle cx="945.8" cy="1055.3" r="5.3"/><circle cx="948.6" cy="1054.5" r="5.3"/><circle cx="956.8" cy="1056.9" r="5.3"/><circle cx="959.6" cy="1046.4" r="5.3"/><circle cx="967.9" cy="1061.9" r="5.3"/><circle cx="973.4" cy="1059.2" r="5.3"/><circle cx="978.9" cy="1049.7" r="5.3"/><circle cx="989.9" cy="1050.7" r="5.3"/><circle cx="998.2" cy="1057.6" r="5.3"/><circle cx="1006.5" cy="1047.3" r="5.3"/><circle cx="1020.3" cy="1051.7" r="5.3"/><circle cx="1028.5" cy="1045.0" r="5.3"/><circle cx="1034.1" cy="1049.5" r="5.3"/><circle cx="1050.6" cy="1047.9" r="5.3"/><circle cx="1056.1" cy="1049.9" r="5.3"/><circle cx="1058.9" cy="1055.4" r="5.3"/><circle cx="1072.7" cy="1060.9" r="5.3"/><circle cx="1075.4" cy="1047.6" r="5.3"/><circle cx="1078.2" cy="1044.9" r="5.3"/><circle cx="1086.5" cy="1053.1" r="5.3"/><circle cx="1092.0" cy="1050.9" r="5.3"/><circle cx="1094.7" cy="1049.4" r="5.3"/><circle cx="1097.5" cy="1047.1" r="5.3"/><circle cx="1103.0" cy="1055.5" r="5.3"/><circle cx="1114.0" cy="1052.3" r="5.3"/><circle cx="1125.1" cy="1048.0" r="5.3"/><circle cx="1127.8" cy="1045.6" r="5.3"/><circle cx="1133.3" cy="1058.8" r="5.3"/><circle cx="1136.1" cy="1053.0" r="5.3"/><circle cx="1144.4" cy="1053.1" r="5.3"/><circle cx="1152.6" cy="1057.2" r="5.3"/><circle cx="1155.4" cy="1046.5" r="5.3"/><circle cx="1174.7" cy="1047.1" r="5.3"/><circle cx="724.3" cy="1057.7" r="5.3"/><circle cx="727.6" cy="1061.8" r="5.3"/><circle cx="741.5" cy="1047.1" r="5.3"/><circle cx="738.3" cy="1063.5" r="5.3"/><circle cx="746.9" cy="1068.8" r="5.3"/><circle cx="752.2" cy="1059.4" r="5.3"/><circle cx="761.2" cy="1057.7" r="5.3"/><circle cx="769.4" cy="1035.6" r="5.3"/><circle cx="782.5" cy="1043.8" r="5.3"/><circle cx="789.1" cy="1043.8" r="5.3"/><circle cx="777.6" cy="1065.1" r="5.3"/><circle cx="790.8" cy="1054.5" r="5.3"/><circle cx="804.7" cy="1043.0" r="5.3"/><circle cx="811.3" cy="1050.4" r="5.3"/><circle cx="809.6" cy="1062.2" r="5.3"/><circle cx="819.5" cy="1046.3" r="5.3"/><circle cx="817.0" cy="1058.6" r="5.3"/><circle cx="827.7" cy="1045.4" r="5.3"/><circle cx="830.1" cy="1058.6" r="5.3"/><circle cx="742.4" cy="1054.5" r="5.3"/><circle cx="831.6" cy="1043.8" r="5.3"/><circle cx="833.3" cy="1058.6" r="5.3"/><circle cx="842.3" cy="1061.0" r="5.3"/><circle cx="848.9" cy="1048.7" r="5.3"/><circle cx="857.1" cy="1070.9" r="5.3"/><circle cx="845.6" cy="1077.4" r="5.3"/><circle cx="862.8" cy="1044.6" r="5.3"/><circle cx="868.6" cy="1039.7" r="5.3"/><circle cx="860.4" cy="1062.7" r="5.3"/><circle cx="881.7" cy="1064.3" r="5.3"/><circle cx="889.1" cy="1056.1" r="5.3"/><circle cx="899.7" cy="1062.7" r="5.3"/><circle cx="903.8" cy="1052.8" r="5.3"/><circle cx="907.9" cy="1052.8" r="5.3"/><circle cx="917.0" cy="1064.3" r="5.3"/><circle cx="926.8" cy="1067.6" r="5.3"/><circle cx="935.8" cy="1064.3" r="5.3"/><circle cx="943.2" cy="1063.5" r="5.3"/><circle cx="916.1" cy="1058.6" r="5.3"/><circle cx="961.9" cy="1034.8" r="5.3"/><circle cx="952.9" cy="1057.7" r="5.3"/><circle cx="963.6" cy="1046.3" r="5.3"/><circle cx="970.1" cy="1055.3" r="5.3"/><circle cx="983.3" cy="1040.5" r="5.3"/><circle cx="975.9" cy="1069.2" r="5.3"/><circle cx="986.6" cy="1058.6" r="5.3"/><circle cx="993.9" cy="1046.3" r="5.3"/><circle cx="1000.5" cy="1044.6" r="5.3"/><circle cx="1002.1" cy="1056.1" r="5.3"/><circle cx="1010.3" cy="1045.4" r="5.3"/><circle cx="1016.1" cy="1060.2" r="5.3"/><circle cx="1025.1" cy="1040.5" r="5.3"/><circle cx="1030.9" cy="1045.4" r="5.3"/><circle cx="1036.6" cy="1057.7" r="5.3"/><circle cx="1041.5" cy="1064.3" r="5.3"/><circle cx="1044.0" cy="1043.8" r="5.3"/><circle cx="1053.8" cy="1038.9" r="5.3"/><circle cx="1061.2" cy="1036.4" r="5.3"/><circle cx="1066.1" cy="1065.1" r="5.3"/><circle cx="1046.4" cy="1056.1" r="5.3"/><circle cx="1068.5" cy="1040.3" r="5.3"/><circle cx="1069.4" cy="1064.9" r="5.3"/><circle cx="1082.1" cy="1037.8" r="5.3"/><circle cx="1089.7" cy="1040.3" r="5.3"/><circle cx="1088.9" cy="1062.4" r="5.3"/><circle cx="1099.9" cy="1056.4" r="5.3"/><circle cx="1107.5" cy="1041.2" r="5.3"/><circle cx="1110.1" cy="1032.3" r="5.3"/><circle cx="1120.2" cy="1038.6" r="5.3"/><circle cx="1118.5" cy="1055.6" r="5.3"/><circle cx="1130.4" cy="1040.3" r="5.3"/><circle cx="1140.6" cy="1055.6" r="5.3"/><circle cx="1149.1" cy="1042.9" r="5.3"/><circle cx="1159.2" cy="1044.6" r="5.3"/><circle cx="1165.2" cy="1060.7" r="5.3"/><circle cx="1171.1" cy="1047.1" r="5.3"/><circle cx="1178.7" cy="1053.9" r="5.3"/><circle cx="1182.1" cy="1061.5" r="5.3"/><circle cx="771.7" cy="1006.4" r="5.3"/></g>
<g fill="#2AB04C"><circle cx="738.8" cy="960.5" r="5.3"/><circle cx="771.7" cy="942.3" r="5.3"/><circle cx="801.9" cy="938.5" r="5.3"/><circle cx="793.6" cy="959.5" r="5.3"/><circle cx="824.2" cy="976.2" r="5.3"/><circle cx="845.8" cy="978.3" r="5.3"/><circle cx="856.8" cy="974.9" r="5.3"/><circle cx="865.0" cy="958.4" r="5.3"/><circle cx="868.4" cy="963.9" r="5.3"/><circle cx="782.7" cy="991.1" r="5.3"/><circle cx="733.3" cy="1003.7" r="5.3"/><circle cx="752.5" cy="1008.8" r="5.3"/><circle cx="815.9" cy="1002.6" r="5.3"/><circle cx="730.5" cy="1021.7" r="5.3"/><circle cx="744.2" cy="1021.0" r="5.3"/><circle cx="788.4" cy="1019.2" r="5.3"/><circle cx="840.7" cy="1023.0" r="5.3"/><circle cx="727.5" cy="1032.6" r="5.3"/><circle cx="813.3" cy="1036.8" r="5.3"/><circle cx="832.5" cy="1037.0" r="5.3"/><circle cx="854.0" cy="1039.2" r="5.3"/><circle cx="739.4" cy="1055.3" r="5.3"/><circle cx="757.3" cy="1051.9" r="5.3"/><circle cx="799.8" cy="1058.7" r="5.3"/><circle cx="809.4" cy="1045.7" r="5.3"/><circle cx="824.5" cy="1046.4" r="5.3"/><circle cx="852.0" cy="1061.5" r="5.3"/><circle cx="860.2" cy="1058.7" r="5.3"/><circle cx="871.2" cy="1061.5" r="5.3"/><circle cx="869.4" cy="1049.5" r="5.3"/><circle cx="762.1" cy="1068.3" r="5.3"/><circle cx="790.9" cy="1071.1" r="5.3"/><circle cx="829.3" cy="1066.3" r="5.3"/><circle cx="843.7" cy="1069.0" r="5.3"/><circle cx="818.3" cy="1075.2" r="5.3"/><circle cx="821.1" cy="1079.3" r="5.3"/><circle cx="837.6" cy="1079.3" r="5.3"/><circle cx="747.0" cy="1077.2" r="5.3"/><circle cx="755.0" cy="1084.8" r="5.3"/><circle cx="765.9" cy="1084.8" r="5.3"/><circle cx="777.2" cy="1084.8" r="5.3"/><circle cx="786.1" cy="1083.0" r="5.3"/><circle cx="796.8" cy="1083.0" r="5.3"/><circle cx="834.8" cy="1088.9" r="5.3"/><circle cx="805.0" cy="1095.8" r="5.3"/><circle cx="779.9" cy="1111.3" r="5.3"/><circle cx="807.6" cy="1122.8" r="5.3"/><circle cx="725.0" cy="1132.1" r="5.3"/><circle cx="735.7" cy="1143.1" r="5.3"/><circle cx="774.4" cy="1142.0" r="5.3"/><circle cx="848.5" cy="1149.7" r="5.3"/><circle cx="769.4" cy="1177.8" r="5.3"/><circle cx="876.9" cy="873.3" r="5.3"/><circle cx="928.6" cy="857.3" r="5.3"/><circle cx="975.4" cy="831.1" r="5.3"/><circle cx="1006.1" cy="910.4" r="5.3"/><circle cx="890.3" cy="947.4" r="5.3"/><circle cx="881.9" cy="985.2" r="5.3"/><circle cx="967.0" cy="968.4" r="5.3"/><circle cx="983.6" cy="976.9" r="5.3"/><circle cx="1014.1" cy="985.8" r="5.3"/><circle cx="926.0" cy="1004.4" r="5.3"/><circle cx="939.3" cy="1006.7" r="5.3"/><circle cx="989.1" cy="1000.5" r="5.3"/><circle cx="1000.1" cy="998.6" r="5.3"/><circle cx="1016.8" cy="1006.7" r="5.3"/><circle cx="884.4" cy="1017.1" r="5.3"/><circle cx="904.0" cy="1020.3" r="5.3"/><circle cx="909.8" cy="1023.0" r="5.3"/><circle cx="972.9" cy="1021.0" r="5.3"/><circle cx="997.6" cy="1025.5" r="5.3"/><circle cx="1027.1" cy="1032.0" r="5.3"/><circle cx="901.1" cy="1038.8" r="5.3"/><circle cx="920.4" cy="1039.5" r="5.3"/><circle cx="942.7" cy="1038.1" r="5.3"/><circle cx="878.9" cy="1045.7" r="5.3"/><circle cx="887.2" cy="1049.1" r="5.3"/><circle cx="952.3" cy="1043.6" r="5.3"/><circle cx="957.8" cy="1048.4" r="5.3"/><circle cx="872.7" cy="1062.1" r="5.3"/><circle cx="930.4" cy="1056.0" r="5.3"/><circle cx="910.5" cy="1063.5" r="5.3"/><circle cx="915.0" cy="1072.4" r="5.3"/><circle cx="936.8" cy="1072.0" r="5.3"/><circle cx="980.9" cy="1069.7" r="5.3"/><circle cx="1010.0" cy="1060.1" r="5.3"/><circle cx="1021.6" cy="1057.3" r="5.3"/><circle cx="1002.8" cy="1074.8" r="5.3"/><circle cx="1019.6" cy="1075.9" r="5.3"/><circle cx="1025.7" cy="1071.8" r="5.3"/><circle cx="892.6" cy="1090.3" r="5.3"/><circle cx="896.1" cy="1088.2" r="5.3"/><circle cx="917.8" cy="1087.8" r="5.3"/><circle cx="945.2" cy="1082.0" r="5.3"/><circle cx="951.0" cy="1086.8" r="5.3"/><circle cx="955.8" cy="1081.4" r="5.3"/><circle cx="970.2" cy="1083.7" r="5.3"/><circle cx="978.7" cy="1096.4" r="5.3"/><circle cx="898.5" cy="1104.3" r="5.3"/><circle cx="947.8" cy="1101.7" r="5.3"/><circle cx="934.2" cy="1126.0" r="5.3"/><circle cx="961.9" cy="1122.2" r="5.3"/><circle cx="1008.6" cy="1124.6" r="5.3"/><circle cx="906.8" cy="1142.7" r="5.3"/><circle cx="986.4" cy="1138.3" r="5.3"/><circle cx="992.1" cy="1138.7" r="5.3"/><circle cx="994.5" cy="1150.4" r="5.3"/><circle cx="964.4" cy="1163.0" r="5.3"/><circle cx="923.5" cy="1170.3" r="5.3"/><circle cx="1030.7" cy="939.6" r="5.3"/><circle cx="1165.2" cy="920.7" r="5.3"/><circle cx="1091.1" cy="952.9" r="5.3"/><circle cx="1069.2" cy="960.2" r="5.3"/><circle cx="1151.9" cy="960.2" r="5.3"/><circle cx="1179.6" cy="974.2" r="5.3"/><circle cx="1066.1" cy="978.3" r="5.3"/><circle cx="1080.1" cy="979.4" r="5.3"/><circle cx="1173.4" cy="983.1" r="5.3"/><circle cx="1176.2" cy="989.0" r="5.3"/><circle cx="1033.8" cy="996.1" r="5.3"/><circle cx="1074.7" cy="1011.5" r="5.3"/><circle cx="1096.6" cy="1016.2" r="5.3"/><circle cx="1099.1" cy="1023.0" r="5.3"/><circle cx="1115.8" cy="1023.0" r="5.3"/><circle cx="1171.1" cy="1015.8" r="5.3"/><circle cx="1148.7" cy="1021.7" r="5.3"/><circle cx="1135.3" cy="1026.1" r="5.3"/><circle cx="1129.5" cy="1035.4" r="5.3"/><circle cx="1140.2" cy="1036.8" r="5.3"/><circle cx="1104.2" cy="1034.7" r="5.3"/><circle cx="1168.0" cy="1038.1" r="5.3"/><circle cx="1042.4" cy="1053.9" r="5.3"/><circle cx="1100.7" cy="1049.8" r="5.3"/><circle cx="1136.4" cy="1049.8" r="5.3"/><circle cx="1161.1" cy="1045.7" r="5.3"/><circle cx="1062.3" cy="1061.5" r="5.3"/><circle cx="1132.3" cy="1060.1" r="5.3"/><circle cx="1145.3" cy="1062.8" r="5.3"/><circle cx="1035.8" cy="1070.4" r="5.3"/><circle cx="1093.6" cy="1067.6" r="5.3"/><circle cx="1118.6" cy="1065.6" r="5.3"/><circle cx="1038.7" cy="1084.8" r="5.3"/><circle cx="1071.9" cy="1082.4" r="5.3"/><circle cx="1085.4" cy="1082.7" r="5.3"/><circle cx="1088.4" cy="1093.4" r="5.3"/><circle cx="1107.6" cy="1093.3" r="5.3"/><circle cx="1121.3" cy="1098.5" r="5.3"/><circle cx="1126.8" cy="1081.1" r="5.3"/><circle cx="1154.2" cy="1088.9" r="5.3"/><circle cx="1157.7" cy="1088.2" r="5.3"/><circle cx="1181.9" cy="1088.9" r="5.3"/><circle cx="1057.9" cy="1108.8" r="5.3"/><circle cx="1046.5" cy="1114.6" r="5.3"/><circle cx="1082.9" cy="1119.8" r="5.3"/><circle cx="1110.1" cy="1117.0" r="5.3"/><circle cx="1143.7" cy="1110.9" r="5.3"/><circle cx="1160.1" cy="1113.2" r="5.3"/><circle cx="1052.7" cy="1131.4" r="5.3"/><circle cx="1055.4" cy="1145.2" r="5.3"/><circle cx="1050.0" cy="1148.6" r="5.3"/><circle cx="1077.8" cy="1144.5" r="5.3"/><circle cx="1060.9" cy="1159.8" r="5.3"/><circle cx="1124.5" cy="1156.8" r="5.3"/><circle cx="1112.1" cy="1360.7" r="5.3"/></g>
<g fill="#6A96D6"><circle cx="727.9" cy="1053.2" r="5.3"/><circle cx="730.7" cy="1050.7" r="5.3"/><circle cx="747.2" cy="1055.4" r="5.3"/><circle cx="755.5" cy="1048.8" r="5.3"/><circle cx="772.0" cy="1051.8" r="5.3"/><circle cx="777.6" cy="1049.6" r="5.3"/><circle cx="785.8" cy="1050.8" r="5.3"/><circle cx="799.6" cy="1053.9" r="5.3"/><circle cx="805.1" cy="1050.7" r="5.3"/><circle cx="813.4" cy="1054.5" r="5.3"/><circle cx="824.4" cy="1051.1" r="5.3"/><circle cx="827.2" cy="1046.8" r="5.3"/><circle cx="846.5" cy="1048.5" r="5.3"/><circle cx="857.5" cy="1053.5" r="5.3"/><circle cx="860.3" cy="1052.7" r="5.3"/><circle cx="865.8" cy="1050.3" r="5.3"/><circle cx="868.6" cy="1053.9" r="5.3"/><circle cx="876.8" cy="1048.4" r="5.3"/><circle cx="885.1" cy="1051.6" r="5.3"/><circle cx="893.4" cy="1057.3" r="5.3"/><circle cx="904.4" cy="1059.0" r="5.3"/><circle cx="907.2" cy="1053.5" r="5.3"/><circle cx="909.9" cy="1052.7" r="5.3"/><circle cx="912.7" cy="1055.1" r="5.3"/><circle cx="918.2" cy="1052.6" r="5.3"/><circle cx="929.2" cy="1050.2" r="5.3"/><circle cx="932.0" cy="1047.7" r="5.3"/><circle cx="937.5" cy="1052.0" r="5.3"/><circle cx="945.8" cy="1050.4" r="5.3"/><circle cx="956.8" cy="1056.5" r="5.3"/><circle cx="959.6" cy="1054.1" r="5.3"/><circle cx="976.1" cy="1051.6" r="5.3"/><circle cx="978.9" cy="1047.7" r="5.3"/><circle cx="987.2" cy="1058.6" r="5.3"/><circle cx="989.9" cy="1060.6" r="5.3"/><circle cx="998.2" cy="1054.8" r="5.3"/><circle cx="1006.5" cy="1049.2" r="5.3"/><circle cx="1023.0" cy="1051.6" r="5.3"/><circle cx="1025.8" cy="1051.0" r="5.3"/><circle cx="1036.8" cy="1050.7" r="5.3"/><circle cx="1039.6" cy="1050.6" r="5.3"/><circle cx="1047.8" cy="1057.5" r="5.3"/><circle cx="1050.6" cy="1048.2" r="5.3"/><circle cx="1058.9" cy="1058.8" r="5.3"/><circle cx="1069.9" cy="1049.6" r="5.3"/><circle cx="1075.4" cy="1053.0" r="5.3"/><circle cx="1078.2" cy="1056.7" r="5.3"/><circle cx="1083.7" cy="1050.6" r="5.3"/><circle cx="1097.5" cy="1052.0" r="5.3"/><circle cx="1105.8" cy="1053.8" r="5.3"/><circle cx="1114.0" cy="1049.0" r="5.3"/><circle cx="1122.3" cy="1055.3" r="5.3"/><circle cx="1133.3" cy="1053.9" r="5.3"/><circle cx="1149.9" cy="1053.4" r="5.3"/><circle cx="1152.6" cy="1047.8" r="5.3"/><circle cx="1158.2" cy="1056.5" r="5.3"/><circle cx="1160.9" cy="1055.0" r="5.3"/><circle cx="1166.4" cy="1050.3" r="5.3"/><circle cx="1177.5" cy="1049.6" r="5.3"/><circle cx="724.3" cy="1050.4" r="5.3"/><circle cx="732.9" cy="1046.3" r="5.3"/><circle cx="738.3" cy="1059.4" r="5.3"/><circle cx="742.4" cy="1052.8" r="5.3"/><circle cx="751.4" cy="1056.9" r="5.3"/><circle cx="762.0" cy="1046.3" r="5.3"/><circle cx="760.4" cy="1053.6" r="5.3"/><circle cx="768.6" cy="1051.2" r="5.3"/><circle cx="774.3" cy="1047.9" r="5.3"/><circle cx="781.7" cy="1055.3" r="5.3"/><circle cx="782.5" cy="1065.9" r="5.3"/><circle cx="788.3" cy="1048.7" r="5.3"/><circle cx="793.2" cy="1058.6" r="5.3"/><circle cx="797.3" cy="1048.7" r="5.3"/><circle cx="802.2" cy="1049.5" r="5.3"/><circle cx="809.6" cy="1055.3" r="5.3"/><circle cx="816.2" cy="1056.9" r="5.3"/><circle cx="820.3" cy="1051.2" r="5.3"/><circle cx="830.1" cy="1050.4" r="5.3"/><circle cx="833.3" cy="1049.5" r="5.3"/><circle cx="839.0" cy="1052.8" r="5.3"/><circle cx="848.9" cy="1051.2" r="5.3"/><circle cx="853.0" cy="1057.7" r="5.3"/><circle cx="843.9" cy="1058.6" r="5.3"/><circle cx="862.8" cy="1054.5" r="5.3"/><circle cx="872.7" cy="1050.4" r="5.3"/><circle cx="880.9" cy="1057.7" r="5.3"/><circle cx="889.1" cy="1052.8" r="5.3"/><circle cx="896.4" cy="1048.7" r="5.3"/><circle cx="900.5" cy="1058.6" r="5.3"/><circle cx="915.3" cy="1052.8" r="5.3"/><circle cx="922.7" cy="1051.2" r="5.3"/><circle cx="926.0" cy="1059.4" r="5.3"/><circle cx="935.0" cy="1055.3" r="5.3"/><circle cx="941.6" cy="1049.5" r="5.3"/><circle cx="948.1" cy="1052.0" r="5.3"/><circle cx="952.9" cy="1054.5" r="5.3"/><circle cx="962.8" cy="1045.4" r="5.3"/><circle cx="966.9" cy="1055.3" r="5.3"/><circle cx="972.6" cy="1046.3" r="5.3"/><circle cx="982.5" cy="1045.4" r="5.3"/><circle cx="984.1" cy="1056.1" r="5.3"/><circle cx="992.3" cy="1056.1" r="5.3"/><circle cx="993.9" cy="1048.7" r="5.3"/><circle cx="1002.1" cy="1052.8" r="5.3"/><circle cx="1008.7" cy="1048.7" r="5.3"/><circle cx="1013.6" cy="1051.2" r="5.3"/><circle cx="1019.4" cy="1047.1" r="5.3"/><circle cx="1029.2" cy="1049.5" r="5.3"/><circle cx="1034.1" cy="1048.7" r="5.3"/><circle cx="1044.0" cy="1050.4" r="5.3"/><circle cx="1054.6" cy="1054.5" r="5.3"/><circle cx="1061.2" cy="1041.3" r="5.3"/><circle cx="1066.1" cy="1047.1" r="5.3"/><circle cx="1067.7" cy="1045.4" r="5.3"/><circle cx="1072.8" cy="1055.6" r="5.3"/><circle cx="1081.3" cy="1045.4" r="5.3"/><circle cx="1087.2" cy="1053.9" r="5.3"/><circle cx="1094.0" cy="1048.0" r="5.3"/><circle cx="1101.6" cy="1053.9" r="5.3"/><circle cx="1108.4" cy="1045.4" r="5.3"/><circle cx="1110.1" cy="1056.4" r="5.3"/><circle cx="1118.5" cy="1052.2" r="5.3"/><circle cx="1125.3" cy="1053.9" r="5.3"/><circle cx="1129.6" cy="1047.1" r="5.3"/><circle cx="1136.3" cy="1043.7" r="5.3"/><circle cx="1139.7" cy="1060.7" r="5.3"/><circle cx="1146.5" cy="1053.9" r="5.3"/><circle cx="1155.0" cy="1059.0" r="5.3"/><circle cx="1163.5" cy="1050.5" r="5.3"/><circle cx="1171.1" cy="1041.2" r="5.3"/><circle cx="1173.6" cy="1053.9" r="5.3"/><circle cx="1182.1" cy="1057.3" r="5.3"/></g>
<line x1="1051.5" y1="1387.5" x2="1051.5" y2="805.4" stroke="#000" stroke-width="2.7" stroke-dasharray="10.25 10.28" stroke-dashoffset="1.1"/>
<rect x="702.6" y="805.4" width="501.80000000000007" height="582.1" fill="none" stroke="#333333" stroke-width="1.6"/>
<line x1="695.2" y1="1285.50" x2="702.6" y2="1285.50" stroke="#333333" stroke-width="2.4"/>
<text x="688.60" y="1295.30" font-size="23.5" fill="#4D4D4D" text-anchor="end" font-weight="normal" >-5.0</text>
<line x1="695.2" y1="1169.00" x2="702.6" y2="1169.00" stroke="#333333" stroke-width="2.4"/>
<text x="688.60" y="1178.80" font-size="23.5" fill="#4D4D4D" text-anchor="end" font-weight="normal" >-2.5</text>
<line x1="695.2" y1="1052.50" x2="702.6" y2="1052.50" stroke="#333333" stroke-width="2.4"/>
<text x="688.60" y="1062.30" font-size="23.5" fill="#4D4D4D" text-anchor="end" font-weight="normal" >0.0</text>
<line x1="695.2" y1="936.00" x2="702.6" y2="936.00" stroke="#333333" stroke-width="2.4"/>
<text x="688.60" y="945.80" font-size="23.5" fill="#4D4D4D" text-anchor="end" font-weight="normal" >2.5</text>
<line x1="695.2" y1="819.50" x2="702.6" y2="819.50" stroke="#333333" stroke-width="2.4"/>
<text x="688.60" y="829.30" font-size="23.5" fill="#4D4D4D" text-anchor="end" font-weight="normal" >5.0</text>
<line x1="774.80" y1="1387.5" x2="774.80" y2="1394.9" stroke="#333333" stroke-width="2.4"/>
<text x="774.80" y="1420.30" font-size="23.5" fill="#4D4D4D" text-anchor="middle" font-weight="normal" >-100</text>
<line x1="912.70" y1="1387.5" x2="912.70" y2="1394.9" stroke="#333333" stroke-width="2.4"/>
<text x="912.70" y="1420.30" font-size="23.5" fill="#4D4D4D" text-anchor="middle" font-weight="normal" >-50</text>
<line x1="1050.60" y1="1387.5" x2="1050.60" y2="1394.9" stroke="#333333" stroke-width="2.4"/>
<text x="1050.60" y="1420.30" font-size="23.5" fill="#4D4D4D" text-anchor="middle" font-weight="normal" >0</text>
<line x1="1188.50" y1="1387.5" x2="1188.50" y2="1394.9" stroke="#333333" stroke-width="2.4"/>
<text x="1188.50" y="1420.30" font-size="23.5" fill="#4D4D4D" text-anchor="middle" font-weight="normal" >50</text>
<text x="953.50" y="1453.60" font-size="29.8" fill="#000" text-anchor="middle" font-weight="normal" >Days until onset</text>
<text x="635.5" y="1096.5" font-size="29.8" fill="#000" text-anchor="middle" transform="rotate(-90 635.5 1096.5)">Difference between arms</text>
<text x="1248.50" y="1031.40" font-size="29.8" fill="#000" text-anchor="start" font-weight="normal" >Outcome</text>
<circle cx="1271.7" cy="1071.2" r="5.4" fill="#F2736B"/>
<text x="1309.50" y="1080.50" font-size="23.5" fill="#000" text-anchor="start" font-weight="normal" >Betted amount</text>
<circle cx="1271.7" cy="1117.1" r="5.4" fill="#2AB04C"/>
<text x="1309.50" y="1126.40" font-size="23.5" fill="#000" text-anchor="start" font-weight="normal" >Net losses</text>
<circle cx="1271.7" cy="1163.3" r="5.4" fill="#6A96D6"/>
<text x="1309.50" y="1172.60" font-size="23.5" fill="#000" text-anchor="start" font-weight="normal" >Spins</text>
</svg></body></html>
